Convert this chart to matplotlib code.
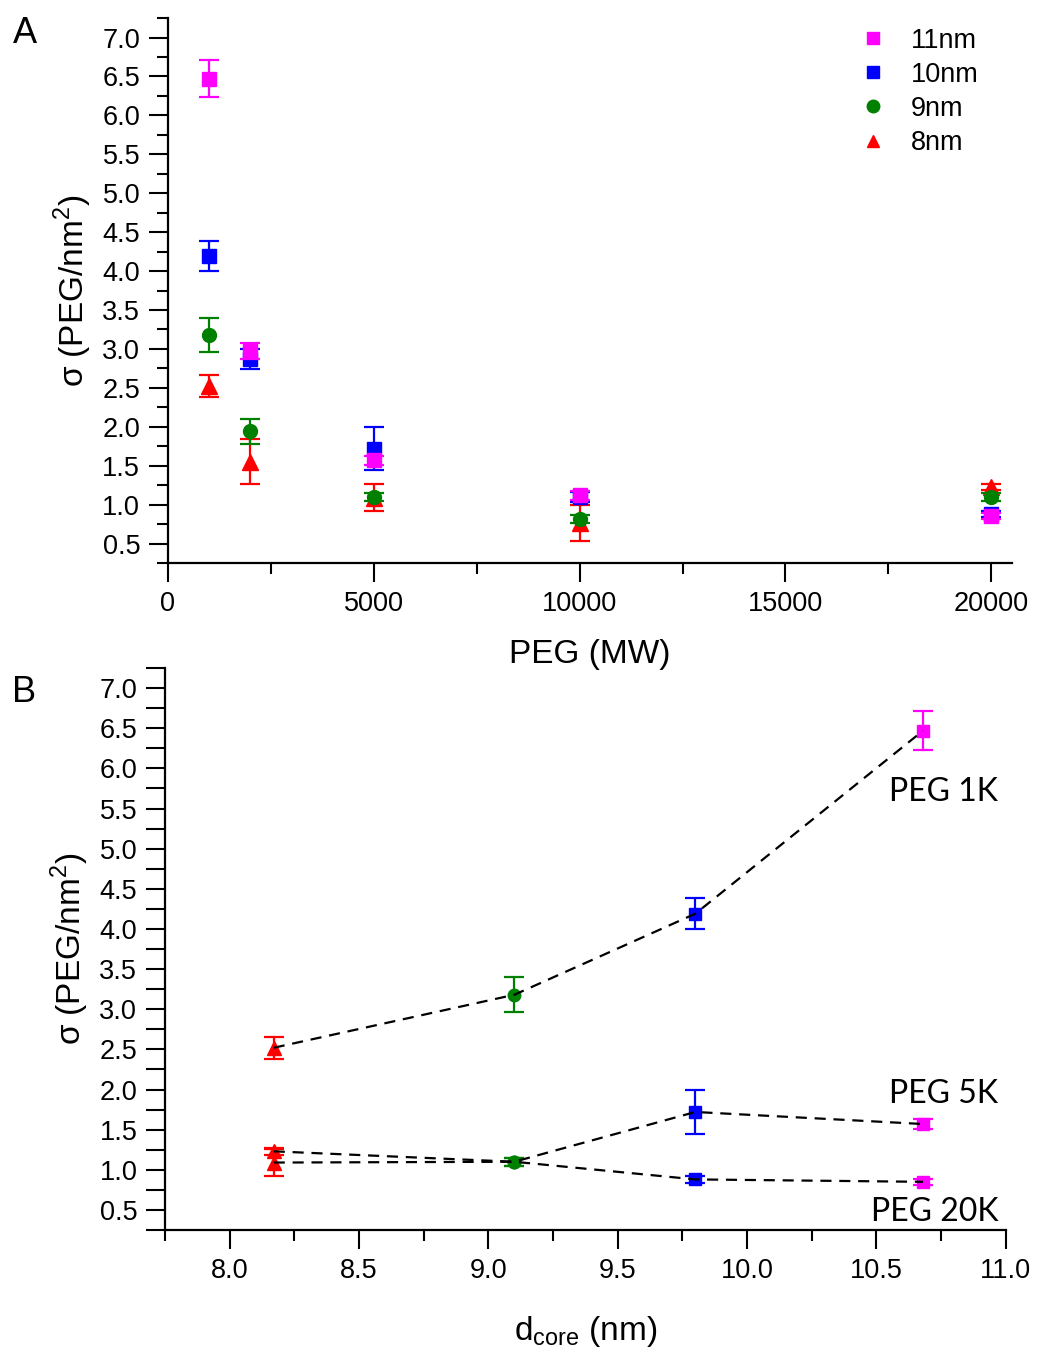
import matplotlib
matplotlib.use("Agg")
import matplotlib.pyplot as plt
from matplotlib.lines import Line2D
from matplotlib.ticker import MultipleLocator

plt.rcParams['font.family'] = ['Liberation Sans', 'DejaVu Sans']

# PEG molecular weights (panel A x axis)
peg_mw = [1000, 2000, 5000, 10000, 20000]

# grafting density sigma (PEG/nm^2) and error per core size
s11 = [6.47, 2.97, 1.57, 1.12, 0.85]
e11 = [0.24, 0.10, 0.06, 0.06, 0.04]
s10 = [4.19, 2.87, 1.72, 1.10, 0.88]
e10 = [0.19, 0.13, 0.28, 0.06, 0.04]
s9 = [3.18, 1.94, 1.10, 0.82, 1.10]
e9 = [0.22, 0.16, 0.05, 0.05, 0.05]
s8 = [2.52, 1.55, 1.09, 0.76, 1.23]
e8 = [0.14, 0.29, 0.17, 0.23, 0.04]

size_labels = ['8nm', '9nm', '10nm', '11nm']
d_core = [8.17, 9.10, 9.80, 10.68]
colors = ['#ff0000', '#008000', '#0000ff', '#ff00ff']
markers = ['^', 'o', 's', 's']
msizes = [11, 10, 9.5, 9.5]

sigma = [s8, s9, s10, s11]
errs = [e8, e9, e10, e11]

# panel B curves: PEG MW and label
peg_b = [1000, 5000, 20000]
peg_b_labels = ['PEG 1K', 'PEG 5K', 'PEG 20K']
label_pos = [(10.97, 5.71), (10.97, 1.95), (10.97, 0.47)]


def style_axis(ax, minor_len):
    for side in ['top', 'right']:
        ax.spines[side].set_visible(False)
    for side in ['left', 'bottom']:
        ax.spines[side].set_linewidth(1.6)
    ax.tick_params(which='major', direction='out', length=14, width=1.5,
                   labelsize=19.5, pad=6)
    ax.tick_params(which='minor', direction='out', length=8, width=1.5)
    ax.tick_params(axis='y', which='minor', length=minor_len)
    ax.yaxis.set_major_locator(MultipleLocator(0.5))
    ax.yaxis.set_minor_locator(MultipleLocator(0.25))
    ax.yaxis.set_major_formatter(plt.FormatStrFormatter('%.1f'))
    ax.set_ylim(0.25, 7.25)
    ax.set_ylabel(r'σ (PEG/nm$^\mathregular{2}$)', fontsize=24, labelpad=6)


fig = plt.figure(figsize=(10.38, 13.57), dpi=100)

# ---- panel A ----
ax1 = fig.add_axes([0.1618, 0.5851, 0.813, 0.4016])
for i in range(4):
    ax1.errorbar(peg_mw, sigma[i], yerr=errs[i], fmt=markers[i], color=colors[i],
                 ms=msizes[i], mec=colors[i], elinewidth=1.6, capsize=7,
                 capthick=1.6, zorder=3 + i)
style_axis(ax1, 8)
ax1.set_xlim(0, 20500)
ax1.xaxis.set_major_locator(MultipleLocator(5000))
ax1.xaxis.set_minor_locator(MultipleLocator(2500))
ax1.set_xlabel('PEG (MW)', fontsize=24, labelpad=16)

handles = [Line2D([], [], ls='none', marker=markers[i], color=colors[i], ms=9)
           for i in [3, 2, 1, 0]]
ax1.legend(handles, [size_labels[i] for i in [3, 2, 1, 0]], loc='upper left',
           bbox_to_anchor=(0.79, 1.027), frameon=False, fontsize=19.5,
           handlelength=1.0, handletextpad=0.9, labelspacing=0.3)
fig.text(0.012, 0.975, 'A', fontsize=26, va='center')

# ---- panel B ----
ax2 = fig.add_axes([0.159, 0.0936, 0.810, 0.4141])
ax2.set_facecolor('none')
for j, mw in enumerate(peg_b):
    k = peg_mw.index(mw)
    ys = [sigma[i][k] for i in range(4)]
    ax2.plot(d_core, ys, color='black', lw=1.6, ls=(0, (5, 3.5)), zorder=10)
    for i in range(4):
        ax2.errorbar(d_core[i], sigma[i][k], yerr=errs[i][k], fmt=markers[i],
                     color=colors[i], ms=msizes[i] - 1, mec=colors[i],
                     elinewidth=1.6, capsize=7, capthick=1.6, zorder=3)
    ax2.text(label_pos[j][0], label_pos[j][1], peg_b_labels[j], fontsize=23,
             ha='right', va='center', family=['Lato', 'DejaVu Sans'])
style_axis(ax2, 14)
ax2.set_xlim(7.75, 11.0)
ax2.xaxis.set_major_locator(MultipleLocator(0.5))
ax2.xaxis.set_minor_locator(MultipleLocator(0.25))
ax2.xaxis.set_major_formatter(plt.FormatStrFormatter('%.1f'))
ax2.set_xlabel(r'd$_\mathregular{core}$ (nm)', fontsize=24, labelpad=22)
fig.text(0.012, 0.49, 'B', fontsize=26, va='center')

fig.savefig('out.png', dpi=100)
